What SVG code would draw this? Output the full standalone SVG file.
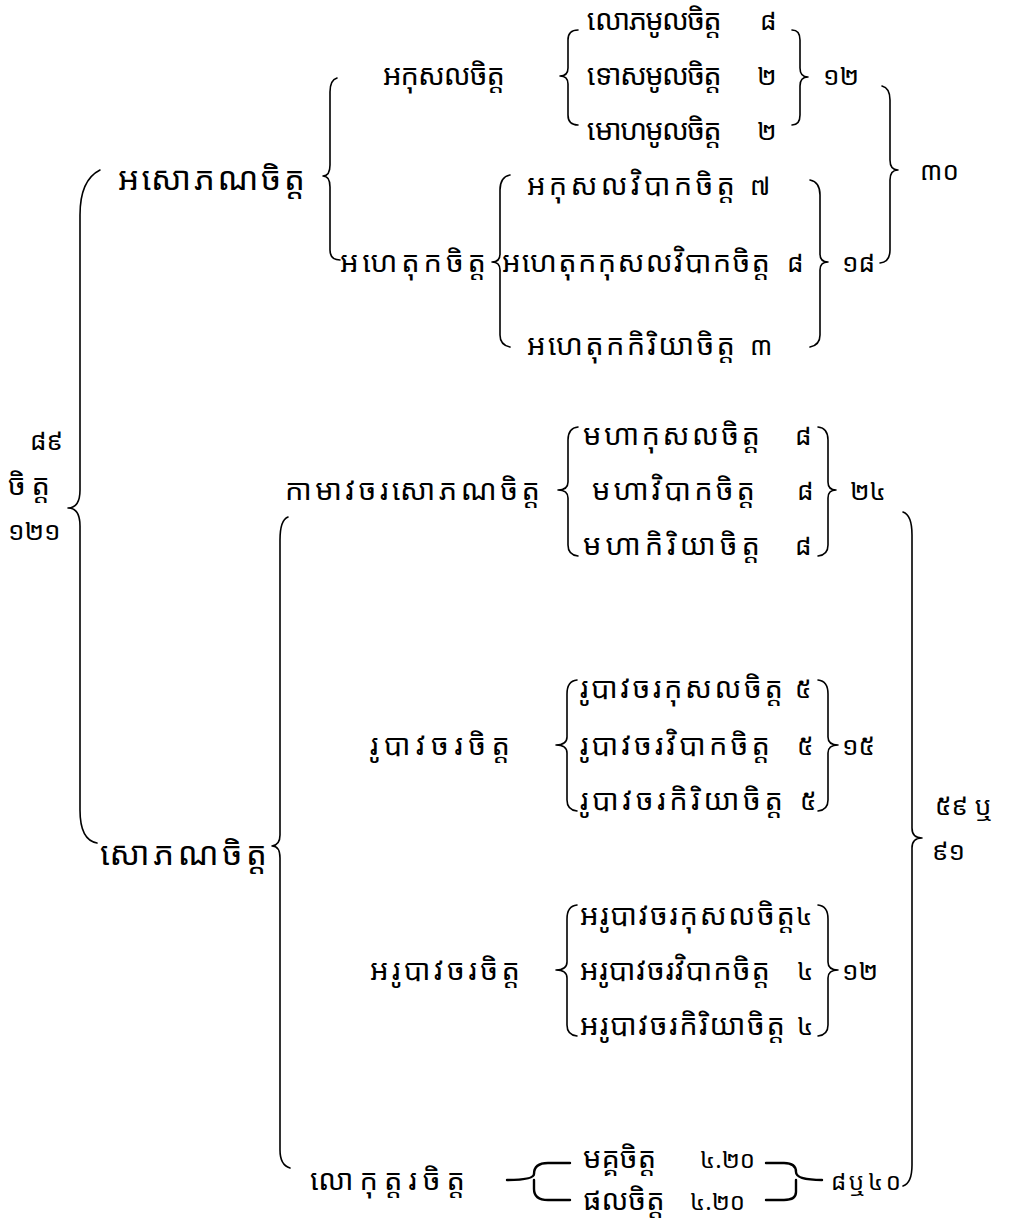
<svg xmlns="http://www.w3.org/2000/svg" width="1012" height="1223" viewBox="0 0 1012 1223">
<style>
text{font-family:"Khmer OS","Khmer OS System","Noto Sans Khmer","Noto Serif Khmer","Noto Sans","DejaVu Sans",sans-serif;font-size:29px;fill:#000}
.L{font-size:33px}
.d{font-size:26px}
.s{font-size:24px}
.b{fill:none;stroke:#000;stroke-width:1.6;stroke-linecap:round;stroke-linejoin:round}
.bb{fill:none;stroke:#000;stroke-width:2.4;stroke-linecap:round;stroke-linejoin:round}
</style>
<rect width="1012" height="1223" fill="#fff"/>
<g id="connectors">
<path class="b" d="M100,170 Q80,180 80,215 L80,490 Q80,508 68,508 Q80,508 80,526 L80,810 Q80,840 97,843"/>
<path class="b" d="M337,78 Q330,80 330,92 L330,165 Q330,176 323,176 Q330,176 330,187 L330,250 Q330,260 340,260"/>
<path class="b" d="M578,30 Q568,30 568,40 L568,68 Q568,76 560,76 Q568,76 568,84 L568,115 Q568,125 578,125"/>
<path class="b" d="M792,30 Q800,30 800,40 L800,68 Q800,77 808,77 Q800,77 800,86 L800,115 Q800,125 792,125"/>
<path class="b" d="M882,86 Q890,88 890,100 L890,160 Q890,170 898,170 Q890,170 890,180 L890,250 Q890,262 880,263"/>
<path class="b" d="M510,175 Q500,177 500,190 L500,254 Q500,262 492,262 Q500,262 500,270 L500,335 Q500,345 510,347"/>
<path class="b" d="M810,180 Q820,182 820,195 L820,254 Q820,262 828,262 Q820,262 820,270 L820,335 Q820,345 810,347"/>
<path class="b" d="M288,517 Q280,520 280,540 L280,835 Q280,845 272,846 Q280,846 280,858 L280,1150 Q280,1165 290,1168"/>
<path class="b" d="M578,427 Q568,428 568,440 L568,482 Q568,490 558,490 Q568,490 568,498 L568,545 Q568,555 578,556"/>
<path class="b" d="M818,427 Q828,428 828,440 L828,482 Q828,490 836,490 Q828,490 828,498 L828,545 Q828,555 818,556"/>
<path class="b" d="M903,512 Q912,515 912,535 L912,828 Q912,838 922,838 Q912,838 912,848 L912,1165 Q912,1183 903,1186"/>
<path class="b" d="M577,680 Q567,681 567,694 L567,737 Q567,745 556,745 Q567,745 567,753 L567,800 Q567,810 577,811"/>
<path class="b" d="M818,680 Q828,681 828,694 L828,737 Q828,745 838,745 Q828,745 828,753 L828,800 Q828,810 818,811"/>
<path class="b" d="M577,905 Q567,906 567,919 L567,962 Q567,970 556,970 Q567,970 567,978 L567,1025 Q567,1035 577,1036"/>
<path class="b" d="M818,905 Q828,906 828,919 L828,962 Q828,970 838,970 Q828,970 828,978 L828,1025 Q828,1035 818,1036"/>
<path class="bb" d="M570,1163 L548,1163 Q534,1163 534,1174 Q534,1180 507,1180 M534,1180 Q534,1186 534,1189 Q534,1200 548,1200 L570,1200"/>
<path class="bb" d="M766,1163 L784,1163 Q796,1163 796,1172 Q796,1180 822,1180 M796,1180 Q796,1190 796,1192 Q796,1200 784,1200 L766,1200"/>
</g>
<g id="n-root"><text class="d" x="30" y="450">៨៩</text><text x="8" y="495" textLength="42">ចិត្ត</text><text class="d" x="8" y="540">១២១</text></g>
<g id="n-asobhana"><text class="L" x="118" y="190" textLength="187">អសោភណចិត្ត</text></g>
<g id="n-sobhana"><text class="L" x="100" y="865" textLength="167">សោភណចិត្ត</text></g>
<g id="n-akusala"><text x="383" y="85" textLength="122">អកុសលចិត្ត</text></g>
<g id="n-lobha"><text x="585" y="30" textLength="135">លោភមូលចិត្ត</text><text class="d" x="760" y="30">៨</text></g>
<g id="n-dosa"><text x="585" y="85" textLength="135">ទោសមូលចិត្ត</text><text class="d" x="757" y="85">២</text></g>
<g id="n-moha"><text x="585" y="140" textLength="135">មោហមូលចិត្ត</text><text class="d" x="757" y="140">២</text></g>
<g id="n-12a"><text class="d" x="823" y="85">១២</text></g>
<g id="n-30"><text class="d" x="920" y="180">៣០</text></g>
<g id="n-ahetuka"><text x="340" y="272" textLength="146">អហេតុកចិត្ត</text></g>
<g id="n-akv"><text x="527" y="195" textLength="208">អកុសលវិបាកចិត្ត</text><text class="d" x="750" y="195">៧</text></g>
<g id="n-ahkv"><text x="502" y="272" textLength="268">អហេតុកកុសលវិបាកចិត្ត</text><text class="d" x="787" y="272">៨</text></g>
<g id="n-ahk"><text x="527" y="355" textLength="208">អហេតុកកិរិយាចិត្ត</text><text class="d" x="750" y="355">៣</text></g>
<g id="n-18"><text class="d" x="842" y="272">១៨</text></g>
<g id="n-kama"><text x="285" y="500" textLength="255">កាមាវចរសោភណចិត្ត</text></g>
<g id="n-mk"><text x="583" y="445" textLength="177">មហាកុសលចិត្ត</text><text class="d" x="795" y="445">៨</text></g>
<g id="n-mv"><text x="592" y="500" textLength="163">មហាវិបាកចិត្ត</text><text class="d" x="797" y="500">៨</text></g>
<g id="n-mki"><text x="583" y="555" textLength="177">មហាកិរិយាចិត្ត</text><text class="d" x="795" y="555">៨</text></g>
<g id="n-24"><text class="d" x="850" y="500">២៤</text></g>
<g id="n-rupa"><text x="370" y="755" textLength="140">រូបាវចរចិត្ត</text></g>
<g id="n-rk"><text x="580" y="698" textLength="203">រូបាវចរកុសលចិត្ត</text><text class="d" x="795" y="698">៥</text></g>
<g id="n-rv"><text x="580" y="755" textLength="190">រូបាវចរវិបាកចិត្ត</text><text class="d" x="797" y="755">៥</text></g>
<g id="n-rki"><text x="580" y="810" textLength="203">រូបាវចរកិរិយាចិត្ត</text><text class="d" x="800" y="810">៥</text></g>
<g id="n-15"><text class="d" x="842" y="755">១៥</text></g>
<g id="n-arupa"><text x="370" y="980" textLength="150">អរូបាវចរចិត្ត</text></g>
<g id="n-ark"><text x="580" y="925" textLength="215">អរូបាវចរកុសលចិត្ត</text><text class="d" x="796" y="925">៤</text></g>
<g id="n-arv"><text x="580" y="980" textLength="190">អរូបាវចរវិបាកចិត្ត</text><text class="d" x="797" y="980">៤</text></g>
<g id="n-arki"><text x="580" y="1035" textLength="205">អរូបាវចរកិរិយាចិត្ត</text><text class="d" x="797" y="1035">៤</text></g>
<g id="n-12b"><text class="d" x="842" y="980">១២</text></g>
<g id="n-5991"><text class="d" x="935" y="815">៥៩ ឬ</text><text class="d" x="932" y="860">៩១</text></g>
<g id="n-lokuttara"><text x="310" y="1190" textLength="155">លោកុត្តរចិត្ត</text></g>
<g id="n-magga"><text x="583" y="1168">មគ្គចិត្ត</text><text class="s" x="700" y="1168">៤.២០</text></g>
<g id="n-phala"><text x="583" y="1210">ផលចិត្ត</text><text class="s" x="690" y="1210">៤.២០</text></g>
<g id="n-840"><text class="s" x="831" y="1190" textLength="70">៨ឬ៤០</text></g>
</svg>
